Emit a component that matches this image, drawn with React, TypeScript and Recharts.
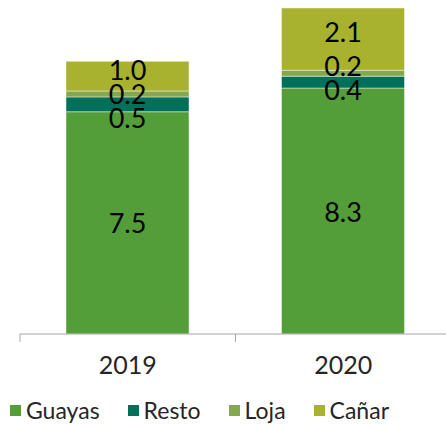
import { BarChart, Bar, XAxis, YAxis, Legend, LabelList } from "recharts"

// values (millions)
const years = ["2019", "2020"]
const guayas = [7.5, 8.3]
const resto = [0.5, 0.4]
const loja = [0.2, 0.2]
const canar = [1.0, 2.1]

const data = years.map((year, i) => ({
  year,
  Guayas: guayas[i],
  Resto: resto[i],
  Loja: loja[i],
  Cañar: canar[i],
}))

const series = [
  { key: "Guayas", color: "#549e3a", nudge: [0, 0] },
  { key: "Resto", color: "#00705a", nudge: [13, 7] },
  { key: "Loja", color: "#86a84c", nudge: [0, -8] },
  { key: "Cañar", color: "#a8b22e", nudge: [-7, -8] },
]

const FONT = "'Century Gothic', Lato, 'DejaVu Sans', sans-serif"
const HALF_BAND = 107.75

const makeLabel = (nudge: number[]) => (props: any) => {
  const { x, y, width, height, value, index } = props
  return (
    <text
      x={x + width / 2}
      y={y + height / 2 + (nudge[index] || 0)}
      textAnchor="middle"
      dominantBaseline="central"
      fontSize={27}
      fontFamily={FONT}
      fill="#000"
    >
      {Number(value).toFixed(1)}
    </text>
  )
}

const YearTick = (props: any) => {
  const { x, y, payload } = props
  return (
    <g>
      <line x1={x - HALF_BAND} x2={x - HALF_BAND} y1={y} y2={y + 8} stroke="#a6a6a6" />
      <text x={x} y={y + 30} textAnchor="middle" dominantBaseline="central" fontSize={25} fontFamily={FONT} fill="#262626">
        {payload.value}
      </text>
    </g>
  )
}

const LegendContent = () => (
  <div style={{ display: "flex", fontFamily: FONT, fontSize: 23, color: "#262626", alignItems: "center" }}>
    {series.map((s) => (
      <div key={s.key} style={{ display: "flex", alignItems: "center", marginRight: 28 }}>
        <span style={{ display: "inline-block", width: 11, height: 11, background: s.color, marginRight: 5 }} />
        <span>{s.key}</span>
      </div>
    ))}
  </div>
)

export default function App() {
  return (
    <div style={{ position: "fixed", left: 0, top: 0, background: "#fff" }}>
      <BarChart
        width={446}
        height={424}
        data={data}
        margin={{ top: 8, right: -5, left: 20, bottom: 8 }}
        barSize={123}
      >
        <XAxis
          dataKey="year"
          stroke="#a6a6a6"
          tickLine={false}
          tickSize={0}
          tickMargin={0}
          height={56}
          tick={<YearTick />}
          interval={0}
        />
        <YAxis hide domain={[0, 11]} />
        <Legend
          content={<LegendContent />}
          wrapperStyle={{ position: "absolute", top: 396, left: 10, width: 436, height: 26 }}
        />
        {series.map((s) => (
          <Bar
            key={s.key}
            dataKey={s.key}
            stackId="a"
            fill={s.color}
            stroke="rgba(255,255,255,0.45)"
            strokeWidth={1}
            isAnimationActive={false}
          >
            <LabelList dataKey={s.key} content={makeLabel(s.nudge)} />
          </Bar>
        ))}
      </BarChart>
    </div>
  )
}
